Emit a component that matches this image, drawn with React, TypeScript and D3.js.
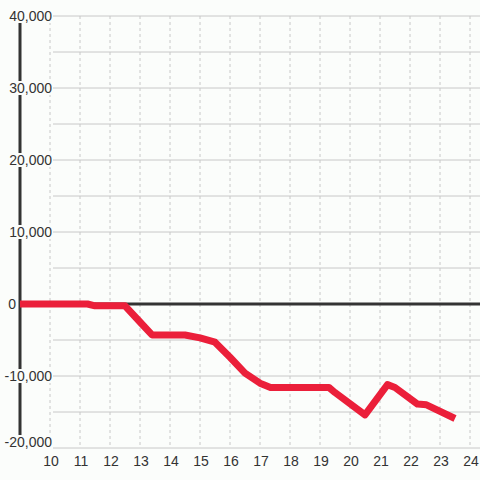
import React from "react";
import * as d3 from "d3";

const hours = [9, 11.25, 11.5, 12.5, 13.0, 13.4, 14.5, 15.0, 15.5, 16.0, 16.5, 17.0, 17.35, 19.3, 19.5, 20.5, 21.25, 21.5, 22.25, 22.55, 23.5];
const values = [0, 0, -250, -250, -2500, -4300, -4300, -4700, -5300, -7400, -9600, -11000, -11600, -11600, -12300, -15400, -11200, -11600, -13900, -14000, -15900];
const xTicks = [10, 11, 12, 13, 14, 15, 16, 17, 18, 19, 20, 21, 22, 23, 24];
const yGrid = [40000, 35000, 30000, 25000, 20000, 15000, 10000, 5000, 0, -5000, -10000, -15000, -20000];
const yLabels = [40000, 30000, 20000, 10000, 0, -10000, -20000];

const W = 480;
const H = 480;
const BG = "#fbfdfb";
const FONT = "'Liberation Sans', Arial, sans-serif";

export default function App() {
  const x = d3.scaleLinear().domain([9, 24]).range([20, 470]);
  const y = d3.scaleLinear().domain([-20000, 40000]).range([448, 16]);
  const data = hours.map((h, i) => ({ h, v: values[i] }));
  const line = d3
    .line<{ h: number; v: number }>()
    .x((d) => x(d.h))
    .y((d) => y(d.v));
  const fmt = (v: number) => (v < 0 ? "-" : "") + d3.format(",")(Math.abs(v));
  const axisX = x(9);

  return (
    <svg
      width={W}
      height={H}
      style={{ position: "absolute", left: 0, top: 0, display: "block", background: BG }}
    >
      <rect x={0} y={0} width={W} height={H} fill={BG} />
      {yGrid.map((v) => (
        <line key={"hg" + v} x1={53} x2={W} y1={y(v)} y2={y(v)} stroke="#c8c8c8" strokeWidth={1} />
      ))}
      {xTicks.map((t) => (
        <line
          key={"vg" + t}
          x1={x(t)}
          x2={x(t)}
          y1={y(40000)}
          y2={y(-20000)}
          stroke="#c8c8c8"
          strokeWidth={1}
          strokeDasharray="3,3"
        />
      ))}
      <line x1={axisX} x2={axisX} y1={y(40000)} y2={y(-20000)} stroke="#333" strokeWidth={3} />
      <line x1={axisX} x2={W} y1={y(0)} y2={y(0)} stroke="#333" strokeWidth={3} />
      {yLabels.map((v) => {
        const txt = fmt(v);
        const endX = v === 0 ? 16 : 52;
        const w = txt.length * 7.8 - (txt.includes(",") ? 3.5 : 0);
        const yy = Math.min(y(v), 442);
        return (
          <g key={"yl" + v}>
            <rect x={endX - w - 1} y={yy - 7} width={w + 2} height={14} fill={BG} />
            <text
              x={endX}
              y={yy + 5}
              textAnchor="end"
              fontFamily={FONT}
              fontSize={14}
              fill="#333"
            >
              {txt}
            </text>
          </g>
        );
      })}
      {xTicks.map((t) => (
        <text
          key={"xl" + t}
          x={x(t) + 1}
          y={466}
          textAnchor="middle"
          fontFamily={FONT}
          fontSize={14}
          fill="#333"
        >
          {t}
        </text>
      ))}
      <path
        d={line(data) || ""}
        fill="none"
        stroke="#eb1f3a"
        strokeWidth={7}
        strokeLinejoin="round"
        strokeLinecap="butt"
      />
    </svg>
  );
}
